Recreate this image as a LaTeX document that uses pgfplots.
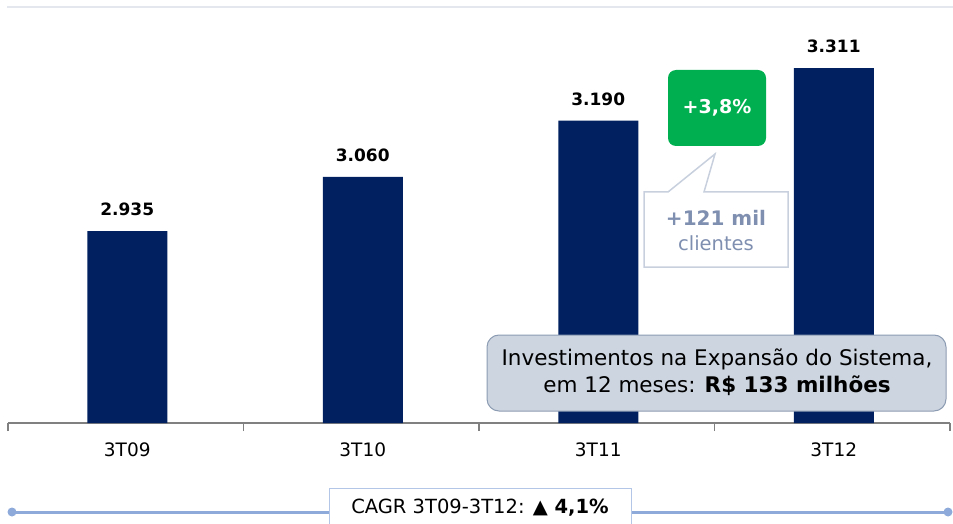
\documentclass[border=0pt]{standalone}
\usepackage{fontspec}
\setmainfont{DejaVu Sans}
\usepackage{pgfplots}
\pgfplotsset{compat=1.18}

\definecolor{barnavy}{RGB}{0,32,96}
\definecolor{axgray}{RGB}{128,128,128}
\definecolor{topgray}{RGB}{228,232,238}
\definecolor{okgreen}{RGB}{0,176,80}
\definecolor{callborder}{RGB}{200,208,222}
\definecolor{calltext}{RGB}{127,143,176}
\definecolor{boxfill}{RGB}{205,213,224}
\definecolor{boxborder}{RGB}{140,156,178}
\definecolor{cagrline}{RGB}{142,170,219}
\definecolor{cagrborder}{RGB}{180,198,231}

\begin{document}
\begin{tikzpicture}
\useasboundingbox (0pt,0pt) rectangle (953pt,523pt);

% light rule at the top
\draw[topgray, line width=2pt] (7pt,516pt) -- (953pt,516pt);

\begin{axis}[
    at={(8pt,100pt)}, anchor=south west,
    scale only axis,
    width=942pt, height=415pt,
    xmin=-0.5, xmax=3.5,
    ymin=2.492, ymax=3.450,
    axis x line=bottom, axis y line=none,
    axis line style={-, draw=axgray, line width=1.5pt},
    xtick={0,1,2,3},
    xticklabels={3T09,3T10,3T11,3T12},
    major tick length=0pt,
    tick style={draw=axgray, line width=1.5pt},
    extra x ticks={-0.5,0.5,1.5,2.5,3.5},
    extra x tick labels={},
    extra x tick style={major tick length=8pt, tick align=outside},
    xticklabel style={font=\fontsize{18.5}{22}\selectfont, yshift=-16pt, xshift=1.5pt},
    ytick=\empty,
    /pgf/number format/assume math mode=true,
    ybar, bar width=80pt, bar shift=1.5pt,
    nodes near coords={\pgfmathprintnumber[fixed,fixed zerofill,precision=3]{\pgfplotspointmeta}},
    every node near coord/.append style={font=\bfseries\fontsize{17}{20}\selectfont,
        text=black, inner sep=0pt, anchor=south, yshift=15pt},
    clip=false,
]
\addplot[fill=barnavy, draw=none] coordinates {
    (0,2.935) (1,3.060) (2,3.190) (3,3.311)
};
\end{axis}

% speech callout: +121 mil clientes
\draw[callborder, line width=1.5pt, fill=white, line join=miter]
    (644pt,331pt) -- (668pt,331pt) -- (715pt,369pt) -- (704pt,331pt)
    -- (788pt,331pt) -- (788pt,256pt) -- (644pt,256pt) -- cycle;
\node[text=calltext, font=\bfseries\fontsize{20}{24}\selectfont] at (716pt,305pt) {+121 mil};
\node[text=calltext, font=\fontsize{19.5}{24}\selectfont] at (716pt,280pt) {clientes};

% green badge
\fill[okgreen, rounded corners=8pt] (668pt,377pt) rectangle (766pt,453pt);
\node[text=white, font=\bfseries\fontsize{19}{22}\selectfont] at (717pt,415pt) {+3,8\%};

% investment box
\draw[boxborder, fill=boxfill, line width=1pt, rounded corners=12pt]
    (487pt,112pt) rectangle (946pt,188pt);
\node[align=center, font=\fontsize{21.5}{27}\selectfont] at (717pt,151pt)
    {Investimentos na Expansão do Sistema,\\em 12 meses: \textbf{R\$ 133 milhões}};

% CAGR line
\draw[cagrline, line width=3pt] (12pt,11pt) -- (948pt,11pt);
\fill[cagrline] (12pt,11pt) circle (4.5pt);
\fill[cagrline] (948pt,11pt) circle (4.5pt);
\fill[white] (329pt,-2pt) rectangle (631pt,35pt);
\draw[cagrborder, line width=1pt] (329pt,-2pt) -- (329pt,35pt) -- (631pt,35pt) -- (631pt,-2pt);
\node[font=\fontsize{19.5}{22}\selectfont] at (480pt,15pt)
    {CAGR 3T09-3T12: \textbf{▲ 4,1\%}};
\end{tikzpicture}
\end{document}
